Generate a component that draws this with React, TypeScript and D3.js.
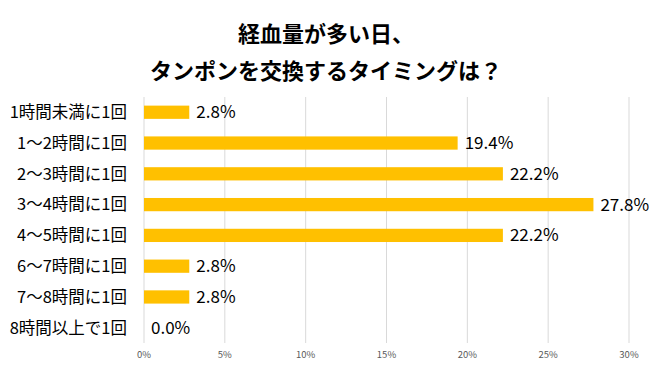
import React from 'react';
import * as d3 from 'd3';

const categories = [
  '1時間未満に1回',
  '1～2時間に1回',
  '2～3時間に1回',
  '3～4時間に1回',
  '4～5時間に1回',
  '6～7時間に1回',
  '7～8時間に1回',
  '8時間以上で1回',
];
const values = [2.8, 19.4, 22.2, 27.8, 22.2, 2.8, 2.8, 0.0];
const ticks = [0, 5, 10, 15, 20, 25, 30];
const titleLines = ['経血量が多い日、', 'タンポンを交換するタイミングは？'];

const W = 650;
const H = 366;
const jp = '"Noto Sans CJK JP", "Noto Sans", sans-serif';

function App() {
  const x = d3.scaleLinear().domain([0, 30]).range([144, 629]);
  const y = d3.scaleBand().domain(categories).range([97, 343]).paddingInner(0.57).paddingOuter(0.28);

  return (
    <svg width={W} height={H} style={{ position: 'absolute', left: 0, top: 0, background: '#fff' }}>
      {titleLines.map((t, i) => (
        <text key={t} x={326} y={42 + i * 37} textAnchor="middle" fontFamily={jp} fontWeight="bold" fontSize={22} fill="#000">
          {t}
        </text>
      ))}
      {ticks.map(t => (
        <g key={t}>
          <line x1={x(t)} x2={x(t)} y1={97} y2={343} stroke="#d9d9d9" strokeWidth={1} />
          <text x={x(t)} y={358} textAnchor="middle" fontFamily={jp} fontSize={9.5} fill="#595959">
            {t}%
          </text>
        </g>
      ))}
      {categories.map((c, i) => {
        const cy = (y(c) ?? 0) + y.bandwidth() / 2;
        return (
          <g key={c}>
            <rect x={x(0)} y={y(c)} width={x(values[i]) - x(0)} height={y.bandwidth()} fill="#FFC000" />
            <text x={127} y={cy} dy="0.35em" textAnchor="end" fontFamily={jp} fontSize={16.5} fill="#000">
              {c}
            </text>
            <text x={x(values[i]) + 7} y={cy} dy="0.35em" fontFamily={jp} fontSize={17} fill="#000">
              {values[i].toFixed(1)}%
            </text>
          </g>
        );
      })}
    </svg>
  );
}

export default App;
